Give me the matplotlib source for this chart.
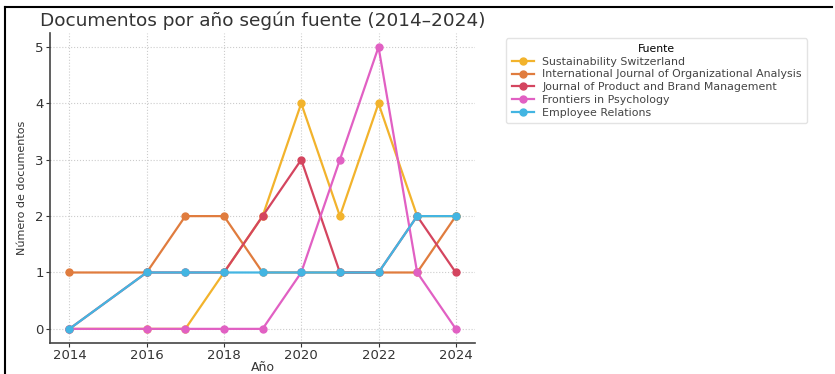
import matplotlib.pyplot as plt
from matplotlib.lines import Line2D

years = [2014, 2016, 2017, 2018, 2019, 2020, 2021, 2022, 2023, 2024]
sources = [
    "Sustainability Switzerland",
    "International Journal of Organizational Analysis",
    "Journal of Product and Brand Management",
    "Frontiers in Psychology",
    "Employee Relations",
]
sustainability = [0, 0, 0, 1, 2, 4, 2, 4, 2, 2]
org_analysis = [1, 1, 2, 2, 1, 1, 1, 1, 1, 2]
brand_mgmt = [0, 1, 1, 1, 2, 3, 1, 1, 2, 1]
frontiers = [0, 0, 0, 0, 0, 1, 3, 5, 1, 0]
employee = [0, 1, 1, 1, 1, 1, 1, 1, 2, 2]
colors = ["#f2b32c", "#e07c3e", "#d4455f", "#e160c3", "#43b5e2"]

fig = plt.figure(figsize=(8.35, 3.74), dpi=100)
ax = fig.add_axes([0.060, 0.083, 0.509, 0.829])

series = [sustainability, org_analysis, brand_mgmt, frontiers, employee]
for name, vals, c in zip(sources, series, colors):
    ax.plot(years, vals, marker="o", markersize=5, lw=1.6, color=c, label=name)

ax.set_xticks([2014, 2016, 2018, 2020, 2022, 2024])
ax.set_yticks(range(6))
ax.tick_params(labelsize=9.5, colors="#333333", length=3, pad=1.5)
ax.grid(True, linestyle=":", color="#cccccc", lw=0.8)
for s in ["top", "right"]:
    ax.spines[s].set_visible(False)
for s in ["left", "bottom"]:
    ax.spines[s].set_color("#444444")
    ax.spines[s].set_linewidth(1.2)

ax.set_title("Documentos por año según fuente (2014–2024)", fontsize=13.3, color="#333333", pad=5)
ax.set_xlabel("Año", fontsize=9, color="#333333", labelpad=-1)
ax.set_ylabel("Número de documentos", fontsize=8, color="#333333", labelpad=6)

leg = ax.legend(title="Fuente", loc="upper left", bbox_to_anchor=(1.06, 1.0),
                fontsize=7.9, title_fontsize=7.8, frameon=True, handlelength=2,
                labelspacing=0.25, borderpad=0.5)
leg.get_frame().set_edgecolor("#dddddd")
for t in leg.get_texts():
    t.set_color("#444444")

# screenshot frame (top and left edges)
fig.add_artist(Line2D([0.006, 0.997], [0.981, 0.981], color="black", lw=1.5))
fig.add_artist(Line2D([0.006, 0.006], [0.0, 0.981], color="black", lw=1.5))

fig.savefig("out.png", dpi=100)
